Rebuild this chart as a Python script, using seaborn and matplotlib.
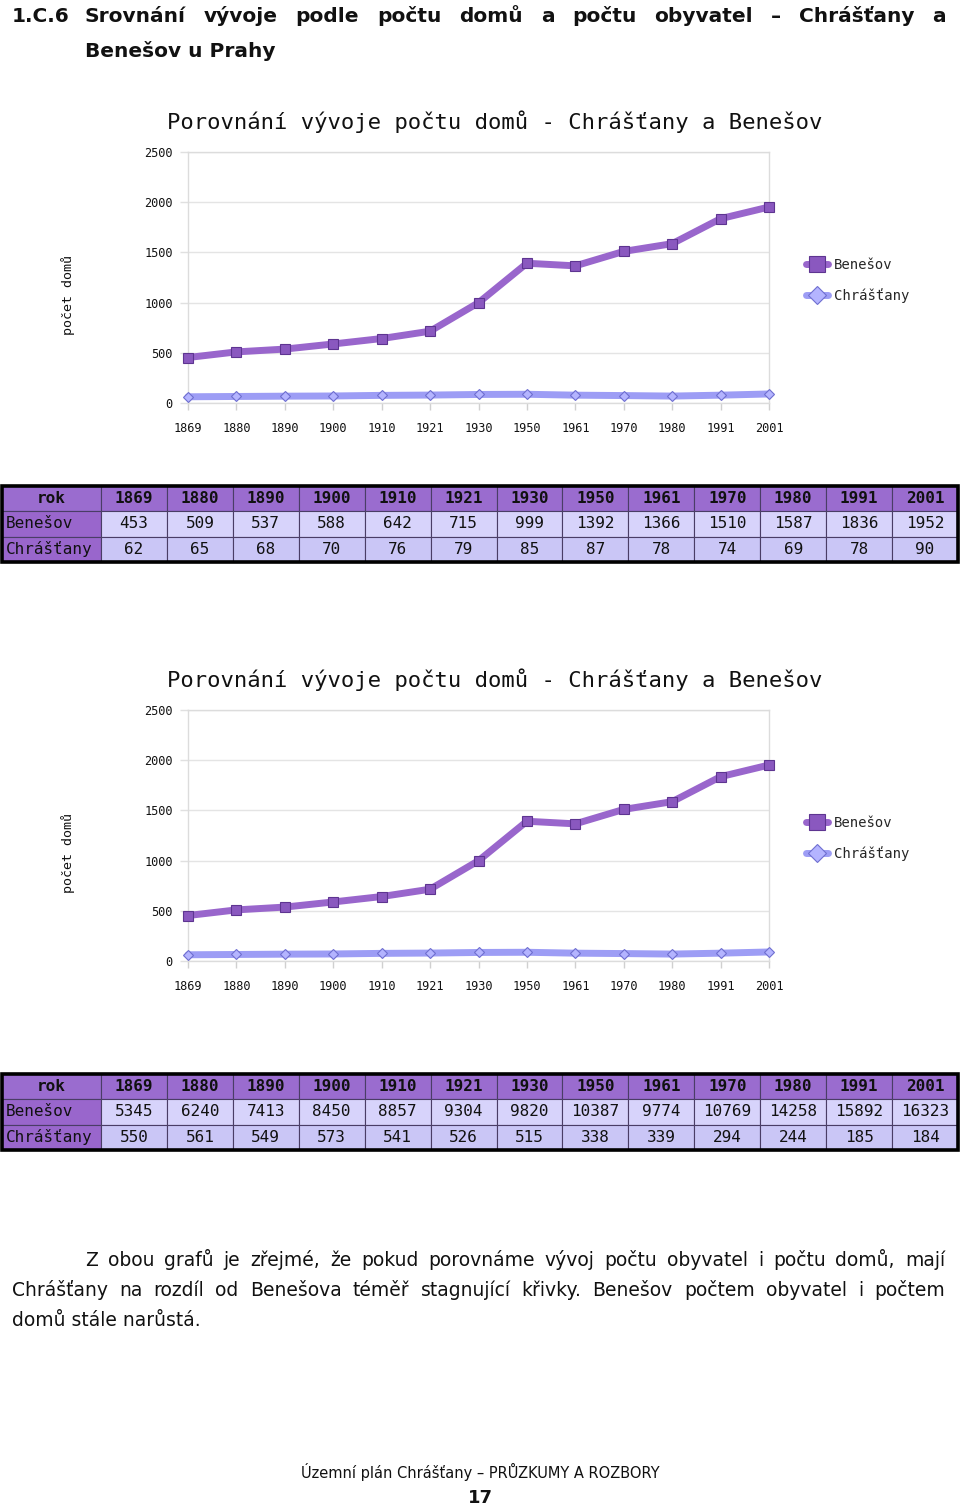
import numpy as np
import pandas as pd
import seaborn as sns
import matplotlib
matplotlib.use("Agg")
import matplotlib.pyplot as plt
from matplotlib.lines import Line2D
from matplotlib.patches import Rectangle

# ---------------- data ----------------
years = ['1869', '1880', '1890', '1900', '1910', '1921', '1930',
         '1950', '1961', '1970', '1980', '1991', '2001']
benesov_domy = [453, 509, 537, 588, 642, 715, 999, 1392, 1366, 1510, 1587, 1836, 1952]
chrastany_domy = [62, 65, 68, 70, 76, 79, 85, 87, 78, 74, 69, 78, 90]
benesov_obyv = [5345, 6240, 7413, 8450, 8857, 9304, 9820, 10387, 9774, 10769, 14258, 15892, 16323]
chrastany_obyv = [550, 561, 549, 573, 541, 526, 515, 338, 339, 294, 244, 185, 184]
series_names = ['Benešov', 'Chrášťany']
row_header = 'rok'
chart_title = 'Porovnání vývoje počtu domů - Chrášťany a Benešov'
y_label = 'počet domů'
y_ticks = [0, 500, 1000, 1500, 2000, 2500]

heading_num = '1.C.6'
heading_l1 = 'Srovnání vývoje podle počtu domů a počtu obyvatel – Chrášťany a'
heading_l2 = 'Benešov u Prahy'
para = ['Z obou grafů je zřejmé, že pokud porovnáme vývoj počtu obyvatel i počtu domů, mají',
        'Chrášťany na rozdíl od Benešova téměř stagnující křivky. Benešov počtem obyvatel i počtem',
        'domů stále narůstá.']
footer = 'Územní plán Chrášťany – PRŮZKUMY A ROZBORY'
page_no = '17'

# ---------------- style ----------------
sns.set_theme(style='white')
plt.rcParams['font.family'] = ['DejaVu Sans']
MONO = ['DejaVu Sans Mono', 'DejaVu Sans']

C_BEN = '#9966cc'
C_BEN_M = '#8a58bf'
C_BEN_E = '#5e3591'
C_CHR = '#9d9df5'
C_CHR_M = '#b4b4ff'
C_CHR_E = '#6f6fd0'
C_GRID = '#e4e4e4'

W, H = 960, 1510
fig = plt.figure(figsize=(W / 100, H / 100), dpi=100)
fig.patch.set_facecolor('white')
renderer = fig.canvas.get_renderer()


def ax_px(x0, y0, x1, y1):
    return fig.add_axes([x0 / W, 1 - y1 / H, (x1 - x0) / W, (y1 - y0) / H])


def justify(line, x0, x1, y, **kw):
    words = line.split(' ')
    texts = [fig.text(0, 1 - y / H, w, ha='left', va='center', **kw) for w in words]
    widths = [t.get_window_extent(renderer).width for t in texts]
    gap = (x1 - x0 - sum(widths)) / max(len(words) - 1, 1)
    x = x0
    for t, w in zip(texts, widths):
        t.set_x(x / W)
        x += w + gap


def draw_chart(top_px, ben, chr_):
    ax = ax_px(188, top_px, 769, top_px + 251)
    df = pd.DataFrame({'pos': np.arange(len(years)), 'ben': ben, 'chr': chr_})
    sns.lineplot(data=df, x='pos', y='chr', ax=ax, color=C_CHR, linewidth=5,
                 marker='D', markersize=5, markerfacecolor=C_CHR_M,
                 markeredgecolor=C_CHR_E, markeredgewidth=0.8, zorder=3, clip_on=False)
    sns.lineplot(data=df, x='pos', y='ben', ax=ax, color=C_BEN, linewidth=5,
                 marker='s', markersize=7, markerfacecolor=C_BEN_M,
                 markeredgecolor=C_BEN_E, markeredgewidth=0.8, zorder=4, clip_on=False)
    ax.set_xlim(0, len(years) - 1)
    ax.set_ylim(0, 2500)
    ax.set_xticks(np.arange(len(years)))
    ax.set_xticklabels(years, family=MONO, fontsize=8.6, color='#111111')
    ax.set_yticks(y_ticks)
    ax.set_yticklabels([str(v) for v in y_ticks], family=MONO, fontsize=8.6, color='#111111')
    ax.set_xlabel('')
    ax.set_ylabel('')
    ax.yaxis.grid(True, color=C_GRID, linewidth=1)
    ax.xaxis.grid(False)
    for s in ax.spines.values():
        s.set_color('#dcdcdc')
        s.set_linewidth(1)
    ax.tick_params(axis='x', length=5, color='#d0d0d0', width=1, pad=9, bottom=True)
    ax.tick_params(axis='y', length=6, color='#e0e0e0', width=1, pad=5, left=True)
    ax.set_facecolor('white')

    fig.text(495 / W, 1 - (top_px - 30) / H, chart_title, family=MONO, fontsize=16,
             ha='center', va='center', color='#111111')
    fig.text(68 / W, 1 - (top_px + 143) / H, y_label, family=MONO, fontsize=9.6,
             rotation=90, ha='center', va='center', color='#111111')

    handles = [
        Line2D([], [], color=C_BEN, lw=5, marker='s', markersize=11,
               markerfacecolor=C_BEN_M, markeredgecolor=C_BEN_E, markeredgewidth=0.8),
        Line2D([], [], color=C_CHR, lw=5, marker='D', markersize=9,
               markerfacecolor=C_CHR_M, markeredgecolor=C_CHR_E, markeredgewidth=0.8),
    ]
    fig.legend(handles, series_names, loc='upper left',
               bbox_to_anchor=(806 / W, 1 - (top_px + 106) / H), frameon=False,
               prop={'family': MONO, 'size': 10}, handlelength=1.6, handletextpad=0.4,
               labelspacing=1.15, borderaxespad=0, borderpad=0)


def draw_table(top_px, bot_px, ben, chr_):
    ax = ax_px(2, top_px, 958, bot_px)
    ax.set_axis_off()
    cell_text = [[row_header] + years,
                 [series_names[0]] + [str(v) for v in ben],
                 [series_names[1]] + [str(v) for v in chr_]]
    hdr = '#9a6ccf'
    colours = [[hdr] * 14,
               ['#9966cc'] + ['#d7d3fb'] * 13,
               ['#9966cc'] + ['#cac6f6'] * 13]
    first_w = 99.0
    other_w = (956 - first_w) / 13
    widths = [first_w / 956] + [other_w / 956] * 13
    tb = ax.table(cellText=cell_text, cellColours=colours, colWidths=widths,
                  cellLoc='center', bbox=[0, 0, 1, 1])
    tb.auto_set_font_size(False)
    for (r, c), cell in tb.get_celld().items():
        cell.set_edgecolor('#4a3d66')
        cell.set_linewidth(0.8)
        t = cell.get_text()
        t.set_fontsize(11.5)
        t.set_color('#111111')
        t.set_family(MONO)
        if r == 0:
            t.set_fontweight('bold')
        if c == 0 and r > 0:
            cell._loc = 'left'
            t.set_ha('left')
            cell.PAD = 0.035
    ax.add_patch(Rectangle((0, 0), 1, 1, transform=ax.transAxes, fill=False,
                           lw=2.6, ec='black', clip_on=False, zorder=10))


draw_chart(152, benesov_domy, chrastany_domy)
draw_table(486, 562, benesov_domy, chrastany_domy)
draw_chart(710, benesov_domy, chrastany_domy)
draw_table(1074, 1150, benesov_obyv, chrastany_obyv)

# heading
hkw = dict(fontsize=14.5, fontweight='bold', color='#111111')
fig.text(12 / W, 1 - 16 / H, heading_num, ha='left', va='center', **hkw)
justify(heading_l1, 85, 946, 16, **hkw)
fig.text(85 / W, 1 - 51 / H, heading_l2, ha='left', va='center', **hkw)

# paragraph
pkw = dict(fontsize=13.5, color='#111111')
justify(para[0], 85, 945, 1260, **pkw)
justify(para[1], 12, 945, 1290, **pkw)
fig.text(12 / W, 1 - 1320 / H, para[2], ha='left', va='center', **pkw)

# footer
fig.text(480 / W, 1 - 1472 / H, footer, fontsize=10.5, ha='center', va='center', color='#111111')
fig.text(480 / W, 1 - 1498 / H, page_no, fontsize=13, fontweight='bold',
         ha='center', va='center', color='#111111')

fig.savefig('out.png', dpi=100, facecolor='white')
